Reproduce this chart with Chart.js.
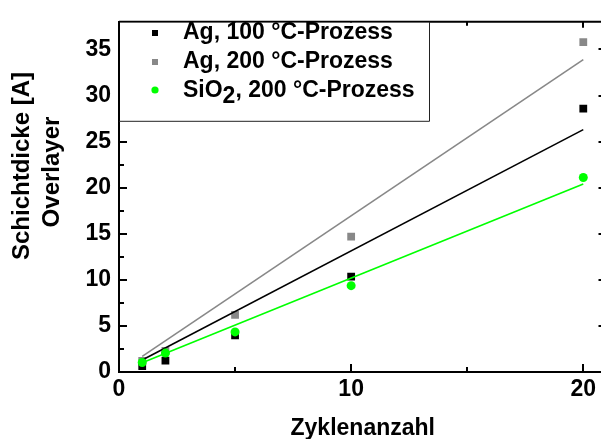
<!DOCTYPE html>
<html><head><meta charset="utf-8">
<script src="https://cdn.jsdelivr.net/npm/chart.js@4/dist/chart.umd.min.js"></script>
<style>
html,body{margin:0;padding:0;background:#fff;overflow:hidden;width:601px;height:439px}
#wrap{position:relative;width:612px;height:439px}
canvas{display:block}
</style></head><body><div id="wrap"><canvas id="c" width="612" height="439"></canvas></div>
<script>
// ---- data ----
const cycles = [1, 2, 5, 10, 20];
const ag100 = [0.64, 1.24, 3.97, 10.36, 28.57];
const ag200 = [1.2, 2.3, 6.2, 14.7, 35.8];
const sio2 = [1.03, 2.05, 4.35, 9.37, 21.1];
// fitted lines (end points)
const fitX = [1, 20];
const fitAg100 = [1.3, 26.3];
const fitAg200 = [1.7, 33.9];
const fitSiO2 = [1.0, 20.4];
// ticks
const xTicks = [0, 5, 10, 15, 20];
const xLabels = [0, 10, 20];
const yTicks = [0, 2.5, 5, 7.5, 10, 12.5, 15, 17.5, 20, 22.5, 25, 27.5, 30, 32.5, 35];
const yLabels = [0, 5, 10, 15, 20, 25, 30, 35];
const legendLabels = ['Ag, 100 °C-Prozess', 'Ag, 200 °C-Prozess', ['SiO', '2', ', 200 °C-Prozess']];
const xTitle = 'Zyklenanzahl';
const yTitle = ['Schichtdicke [A]', 'Overlayer'];

const C_BLACK = '#000000', C_GRAY = '#888888', C_GREEN = '#00ff00';
const FAM = '"Liberation Sans", Arial, sans-serif';
const FONT = 'bold 23px ' + FAM;
const YFONT = 'bold 24px ' + FAM;

const pts = (xs, ys) => xs.map((x, i) => ({x: x, y: ys[i]}));

const framePlugin = {
  id: 'frame',
  afterDatasetsDraw(chart) {
    const ctx = chart.ctx, a = chart.chartArea;
    const xs = chart.scales.x, ys = chart.scales.y;
    ctx.save();
    ctx.strokeStyle = '#000';
    ctx.lineWidth = 2;
    // top and right frame
    ctx.beginPath();
    ctx.moveTo(a.left, a.top); ctx.lineTo(a.right, a.top);
    ctx.moveTo(a.right, a.top); ctx.lineTo(a.right, a.bottom);
    ctx.stroke();
    // inward ticks
    ctx.beginPath();
    xTicks.forEach(v => {
      const p = Math.round(xs.getPixelForValue(v));
      const major = xLabels.includes(v);
      const lb = major ? 8 : 5, lt = major ? 6 : 4;
      ctx.moveTo(p, a.bottom); ctx.lineTo(p, a.bottom - lb);
      ctx.moveTo(p, a.top); ctx.lineTo(p, a.top + lt);
    });
    yTicks.forEach(v => {
      const p = Math.round(ys.getPixelForValue(v));
      const major = yLabels.includes(v);
      const l = major ? 8 : 5;
      ctx.moveTo(a.left, p); ctx.lineTo(a.left + l, p);
      ctx.moveTo(a.right, p); ctx.lineTo(a.right - l, p);
    });
    ctx.stroke();

    // legend box
    const lx = a.left, ly = a.top, lw = 310, lh = 99;
    ctx.fillStyle = '#fff';
    ctx.fillRect(lx + 1, ly + 1, lw, lh);
    ctx.lineWidth = 1;
    ctx.strokeStyle = '#222';
    ctx.beginPath();
    ctx.moveTo(lx + lw + 0.5, ly); ctx.lineTo(lx + lw + 0.5, ly + lh + 0.5);
    ctx.lineTo(lx, ly + lh + 0.5);
    ctx.stroke();
    const rows = [38.5, 67.5, 96.5];
    const mx = 155;
    // markers
    ctx.fillStyle = C_BLACK; ctx.fillRect(mx - 3, rows[0] - 8.5, 6, 6);
    ctx.fillStyle = C_GRAY; ctx.fillRect(mx - 3, rows[1] - 8.5, 6, 6);
    ctx.fillStyle = C_GREEN; ctx.beginPath(); ctx.arc(mx, rows[2] - 6.5, 3.6, 0, Math.PI * 2); ctx.fill();
    // text
    ctx.fillStyle = '#000';
    ctx.font = FONT;
    ctx.textBaseline = 'alphabetic';
    ctx.textAlign = 'left';
    const tx = 183;
    ctx.fillText(legendLabels[0], tx, rows[0]);
    ctx.fillText(legendLabels[1], tx, rows[1]);
    const parts = legendLabels[2];
    let cx = tx;
    ctx.fillText(parts[0], cx, rows[2]); cx += ctx.measureText(parts[0]).width;
    ctx.fillText(parts[1], cx, rows[2] + 6); cx += ctx.measureText(parts[1]).width;
    ctx.fillText(parts[2], cx, rows[2]);

    // axis titles
    ctx.textAlign = 'center';
    ctx.textBaseline = 'alphabetic';
    ctx.fillText(xTitle, (a.left + a.right) / 2, 435);
    ctx.font = YFONT;
    ctx.textBaseline = 'middle';
    ctx.save(); ctx.translate(22, 166); ctx.rotate(-Math.PI / 2); ctx.fillText(yTitle[0], 0, 0); ctx.restore();
    ctx.save(); ctx.translate(52, 172); ctx.rotate(-Math.PI / 2); ctx.fillText(yTitle[1], 0, 0); ctx.restore();
    ctx.restore();
  }
};

const tickFont = {family: FAM, size: 23, weight: 'bold'};

new Chart(document.getElementById('c'), {
  type: 'scatter',
  data: {
    datasets: [
      {label: 'SiO2 pts', data: pts(cycles, sio2), backgroundColor: C_GREEN, borderColor: C_GREEN, pointStyle: 'circle', pointRadius: 4.5, borderWidth: 0, order: 1},
      {label: 'SiO2 fit', data: pts(fitX, fitSiO2), showLine: true, borderColor: C_GREEN, borderWidth: 1.6, pointRadius: 0, order: 2},
      {label: 'Ag100 pts', data: pts(cycles, ag100), backgroundColor: C_BLACK, borderColor: C_BLACK, pointStyle: 'rect', pointRadius: 5.5, borderWidth: 0, order: 3},
      {label: 'Ag100 fit', data: pts(fitX, fitAg100), showLine: true, borderColor: C_BLACK, borderWidth: 1.6, pointRadius: 0, order: 4},
      {label: 'Ag200 pts', data: pts(cycles, ag200), backgroundColor: C_GRAY, borderColor: C_GRAY, pointStyle: 'rect', pointRadius: 5.5, borderWidth: 0, order: 5},
      {label: 'Ag200 fit', data: pts(fitX, fitAg200), showLine: true, borderColor: C_GRAY, borderWidth: 1.6, pointRadius: 0, order: 6}
    ]
  },
  options: {
    responsive: false,
    animation: false,
    devicePixelRatio: 1,
    layout: {padding: {top: 13, right: 5, left: 0, bottom: 0}},
    plugins: {legend: {display: false}, tooltip: {enabled: false}},
    scales: {
      x: {
        type: 'linear', min: 0, max: 21,
        afterBuildTicks: s => { s.ticks = xTicks.map(v => ({value: v})); },
        afterFit: s => { s.height = 67; },
        ticks: {callback: v => xLabels.includes(v) ? String(v) : '', font: tickFont, color: '#000', padding: 4, maxRotation: 0, autoSkip: false},
        grid: {drawOnChartArea: false, drawTicks: false},
        border: {display: true, width: 2, color: '#000'}
      },
      y: {
        type: 'linear', min: 0, max: 38,
        afterBuildTicks: s => { s.ticks = yTicks.map(v => ({value: v})); },
        afterFit: s => { s.width = 119; },
        ticks: {callback: v => yLabels.includes(v) ? String(v) : '', font: tickFont, color: '#000', padding: 8, autoSkip: false},
        grid: {drawOnChartArea: false, drawTicks: false},
        border: {display: true, width: 2, color: '#000'}
      }
    }
  },
  plugins: [framePlugin]
});
</script></body></html>
